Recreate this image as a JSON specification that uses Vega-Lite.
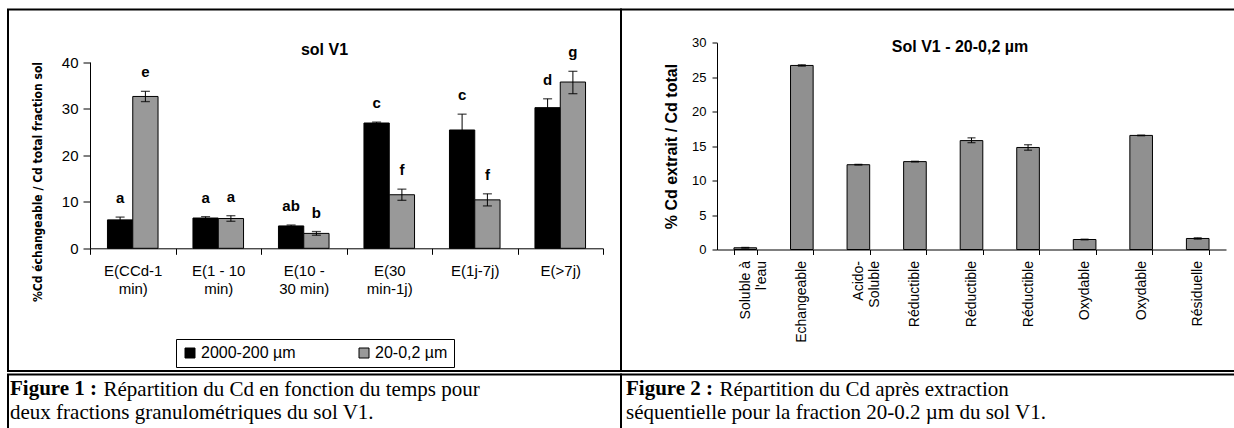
{
  "$schema": "https://vega.github.io/schema/vega-lite/v6.json",
  "autosize": {"type": "pad"},
  "padding": {"left": 7, "top": 8.5, "right": 0, "bottom": 0},
  "background": "white",
  "config": {
    "view": {"stroke": "black", "strokeWidth": 2},
    "font": "Liberation Sans",
    "axis": {"domainColor": "black", "tickColor": "black", "labelColor": "black", "titleColor": "black", "grid": false, "labelFont": "Liberation Sans", "titleFont": "Liberation Sans", "labelOverlap": false}
  },
  "spacing": -2,
  "vconcat": [
    {
      "spacing": 0,
      "bounds": "flush",
      "hconcat": [
        {
          "width": 613,
          "height": 361.5,
          "title": {"text": "sol V1", "orient": "top", "anchor": "middle", "frame": "group", "offset": -48.5, "dx": 10, "fontSize": 16, "fontWeight": "bold", "font": "Liberation Sans", "color": "black"},
          "data": {"values": [
            {"period": "E(CCd-1|min)", "frac": "2000-200 µm", "value": 6.1, "lo": 5.5, "hi": 6.7, "letter": "a"},
            {"period": "E(CCd-1|min)", "frac": "20-0,2 µm", "value": 32.6, "lo": 31.5, "hi": 33.7, "letter": "e"},
            {"period": "E(1 - 10|min)", "frac": "2000-200 µm", "value": 6.5, "lo": 6.2, "hi": 6.8, "letter": "a"},
            {"period": "E(1 - 10|min)", "frac": "20-0,2 µm", "value": 6.4, "lo": 5.8, "hi": 7.0, "letter": "a"},
            {"period": "E(10 -|30 min)", "frac": "2000-200 µm", "value": 4.8, "lo": 4.6, "hi": 5.0, "letter": "ab"},
            {"period": "E(10 -|30 min)", "frac": "20-0,2 µm", "value": 3.2, "lo": 2.8, "hi": 3.6, "letter": "b"},
            {"period": "E(30|min-1j)", "frac": "2000-200 µm", "value": 26.9, "lo": 26.7, "hi": 27.1, "letter": "c"},
            {"period": "E(30|min-1j)", "frac": "20-0,2 µm", "value": 11.5, "lo": 10.3, "hi": 12.7, "letter": "f"},
            {"period": "E(1j-7j)", "frac": "2000-200 µm", "value": 25.4, "lo": 22.0, "hi": 28.8, "letter": "c"},
            {"period": "E(1j-7j)", "frac": "20-0,2 µm", "value": 10.4, "lo": 9.1, "hi": 11.7, "letter": "f"},
            {"period": "E(>7j)", "frac": "2000-200 µm", "value": 30.2, "lo": 28.2, "hi": 32.1, "letter": "d"},
            {"period": "E(>7j)", "frac": "20-0,2 µm", "value": 35.7, "lo": 33.2, "hi": 38.0, "letter": "g"}
          ]},
          "encoding": {
            "x": {
              "field": "period", "type": "nominal", "sort": null,
              "scale": {"range": [82, 595], "paddingInner": 0, "paddingOuter": 0},
              "axis": {"title": null, "orient": "bottom", "offset": -122.7, "labelAngle": 0, "tickBand": "extent", "tickSize": 6, "labelFontSize": 15, "labelPadding": 9, "labelBaseline": "top", "labelLineHeight": 18, "labelExpr": "split(datum.label, '|')"}
            },
            "xOffset": {"field": "frac", "type": "nominal", "sort": ["2000-200 µm", "20-0,2 µm"], "scale": {"paddingOuter": 0.69, "paddingInner": 0}}
          },
          "layer": [
            {
              "mark": {"type": "bar", "stroke": "black", "strokeWidth": 1},
              "encoding": {
                "y": {"field": "value", "type": "quantitative", "scale": {"domain": [0, 40], "range": [238.8, 52.5], "nice": false},
                  "axis": {"title": "%Cd échangeable / Cd total fraction sol", "offset": -82, "values": [0, 10, 20, 30, 40], "tickSize": 7, "labelFontSize": 15, "labelPadding": 5, "titleFontSize": 12, "titleFontWeight": "bold", "titleFont": "Liberation Sans Narrow, DejaVu Sans Condensed, Liberation Sans", "titlePadding": 17, "titleY": 172}},
                "color": {"field": "frac", "type": "nominal",
                  "scale": {"domain": ["2000-200 µm", "20-0,2 µm"], "range": ["#000000", "#999999"]},
                  "legend": {"orient": "none", "legendX": 168, "legendY": 329.5, "direction": "horizontal", "title": null, "strokeColor": "black", "fillColor": "white", "padding": 6, "symbolType": "square", "symbolSize": 100, "symbolStrokeColor": "black", "symbolStrokeWidth": 1, "labelFontSize": 16, "labelColor": "black", "labelFont": "Liberation Sans", "columnPadding": 60, "labelOffset": 3}}
              }
            },
            {
              "mark": {"type": "rule", "color": "black", "strokeWidth": 1},
              "encoding": {
                "y": {"field": "lo", "type": "quantitative", "scale": {"domain": [0, 40], "range": [238.8, 52.5], "nice": false}},
                "y2": {"field": "hi"}
              }
            },
            {
              "mark": {"type": "tick", "color": "black", "thickness": 1.3, "size": 9},
              "encoding": {"y": {"field": "hi", "type": "quantitative", "scale": {"domain": [0, 40], "range": [238.8, 52.5], "nice": false}}}
            },
            {
              "mark": {"type": "tick", "color": "black", "thickness": 1.3, "size": 9},
              "encoding": {"y": {"field": "lo", "type": "quantitative", "scale": {"domain": [0, 40], "range": [238.8, 52.5], "nice": false}}}
            },
            {
              "mark": {"type": "text", "fontSize": 15, "fontWeight": "bold", "baseline": "middle", "dy": -19, "color": "black", "font": "Liberation Sans"},
              "encoding": {
                "y": {"field": "hi", "type": "quantitative", "scale": {"domain": [0, 40], "range": [238.8, 52.5], "nice": false}},
                "text": {"field": "letter"}
              }
            }
          ]
        },
        {
          "width": 620,
          "height": 361.5,
          "title": {"text": "Sol V1 - 20-0,2 µm", "orient": "top", "anchor": "middle", "frame": "group", "offset": -45.7, "dx": 29, "fontSize": 16, "fontWeight": "bold", "font": "Liberation Sans", "color": "black"},
          "data": {"values": [
            {"fraction": "Soluble à|l'eau", "value": 0.25, "lo": 0.2, "hi": 0.3},
            {"fraction": "Echangeable", "value": 26.7, "lo": 26.6, "hi": 26.8},
            {"fraction": "Acido-|Soluble", "value": 12.3, "lo": 12.25, "hi": 12.35},
            {"fraction": "Réductible#1", "value": 12.75, "lo": 12.7, "hi": 12.8},
            {"fraction": "Réductible#2", "value": 15.8, "lo": 15.5, "hi": 16.2},
            {"fraction": "Réductible#3", "value": 14.8, "lo": 14.4, "hi": 15.2},
            {"fraction": "Oxydable#1", "value": 1.45, "lo": 1.4, "hi": 1.5},
            {"fraction": "Oxydable#2", "value": 16.55, "lo": 16.5, "hi": 16.6},
            {"fraction": "Résiduelle", "value": 1.6, "lo": 1.5, "hi": 1.7}
          ]},
          "encoding": {
            "x": {
              "field": "fraction", "type": "nominal", "sort": null,
              "scale": {"range": [96, 605], "paddingInner": 0.6, "paddingOuter": 0.3},
              "axis": {"title": null, "orient": "bottom", "offset": -121.5, "labelAngle": -90, "labelAlign": "right", "labelBaseline": "middle", "tickBand": "extent", "tickSize": 5, "labelFontSize": 14, "labelPadding": 6, "labelLineHeight": 16, "labelExpr": "split(split(datum.label, '#')[0], '|')"}
            }
          },
          "layer": [
            {
              "mark": {"type": "bar", "stroke": "black", "strokeWidth": 1, "fill": "#909090"},
              "encoding": {
                "y": {"field": "value", "type": "quantitative", "scale": {"domain": [0, 30], "range": [240, 33.2], "nice": false},
                  "axis": {"title": "% Cd extrait / Cd total", "offset": -96, "values": [0, 5, 10, 15, 20, 25, 30], "tickSize": 5, "labelFontSize": 13, "labelPadding": 6, "titleFontSize": 16, "titleFontWeight": "bold", "titlePadding": 12}}
              }
            },
            {
              "mark": {"type": "rule", "color": "black", "strokeWidth": 1},
              "encoding": {
                "y": {"field": "lo", "type": "quantitative", "scale": {"domain": [0, 30], "range": [240, 33.2], "nice": false}},
                "y2": {"field": "hi"}
              }
            },
            {
              "mark": {"type": "tick", "color": "black", "thickness": 1.3, "size": 8},
              "encoding": {"y": {"field": "hi", "type": "quantitative", "scale": {"domain": [0, 30], "range": [240, 33.2], "nice": false}}}
            },
            {
              "mark": {"type": "tick", "color": "black", "thickness": 1.3, "size": 8},
              "encoding": {"y": {"field": "lo", "type": "quantitative", "scale": {"domain": [0, 30], "range": [240, 33.2], "nice": false}}}
            }
          ]
        }
      ]
    },
    {
      "spacing": 0,
      "bounds": "flush",
      "hconcat": [
        {
          "width": 613,
          "height": 80,
          "data": {"values": [{"k": 1}]},
          "mark": {"type": "point", "opacity": 0},
          "encoding": {
            "x": {"field": "k", "type": "quantitative", "axis": {"orient": "top", "domain": false, "ticks": false, "labels": false, "title": "Répartition du Cd en fonction du temps pour", "titleX": 95, "titleY": 4, "titleAlign": "left", "titleAnchor": "start", "titleBaseline": "top", "titleAngle": 0, "titleFont": "Liberation Serif", "titleFontSize": 21, "titleFontWeight": "normal", "titleColor": "black"}},
            "y": {"field": "k", "type": "quantitative", "axis": null}
          },
          "title": {"text": "Figure 1 :", "subtitle": "deux fractions granulométriques du sol V1.", "orient": "bottom", "anchor": "start", "frame": "group", "offset": -77, "dx": 2, "baseline": "top", "font": "Liberation Serif", "fontSize": 21, "fontWeight": "bold", "color": "black", "subtitleFont": "Liberation Serif", "subtitleFontSize": 21, "subtitleColor": "black", "subtitleLineHeight": 23, "subtitlePadding": 3}
        },
        {
          "width": 620,
          "height": 80,
          "data": {"values": [{"k": 1}]},
          "mark": {"type": "point", "opacity": 0},
          "encoding": {
            "x": {"field": "k", "type": "quantitative", "axis": {"orient": "top", "domain": false, "ticks": false, "labels": false, "title": "Répartition du Cd après extraction", "titleX": 98, "titleY": 4, "titleAlign": "left", "titleAnchor": "start", "titleBaseline": "top", "titleAngle": 0, "titleFont": "Liberation Serif", "titleFontSize": 21, "titleFontWeight": "normal", "titleColor": "black"}},
            "y": {"field": "k", "type": "quantitative", "axis": null}
          },
          "title": {"text": "Figure 2 :", "subtitle": "séquentielle pour la fraction 20-0.2 µm du sol V1.", "orient": "bottom", "anchor": "start", "frame": "group", "offset": -77, "dx": 5, "baseline": "top", "font": "Liberation Serif", "fontSize": 21, "fontWeight": "bold", "color": "black", "subtitleFont": "Liberation Serif", "subtitleFontSize": 21, "subtitleColor": "black", "subtitleLineHeight": 23, "subtitlePadding": 3}
        }
      ]
    }
  ]
}
